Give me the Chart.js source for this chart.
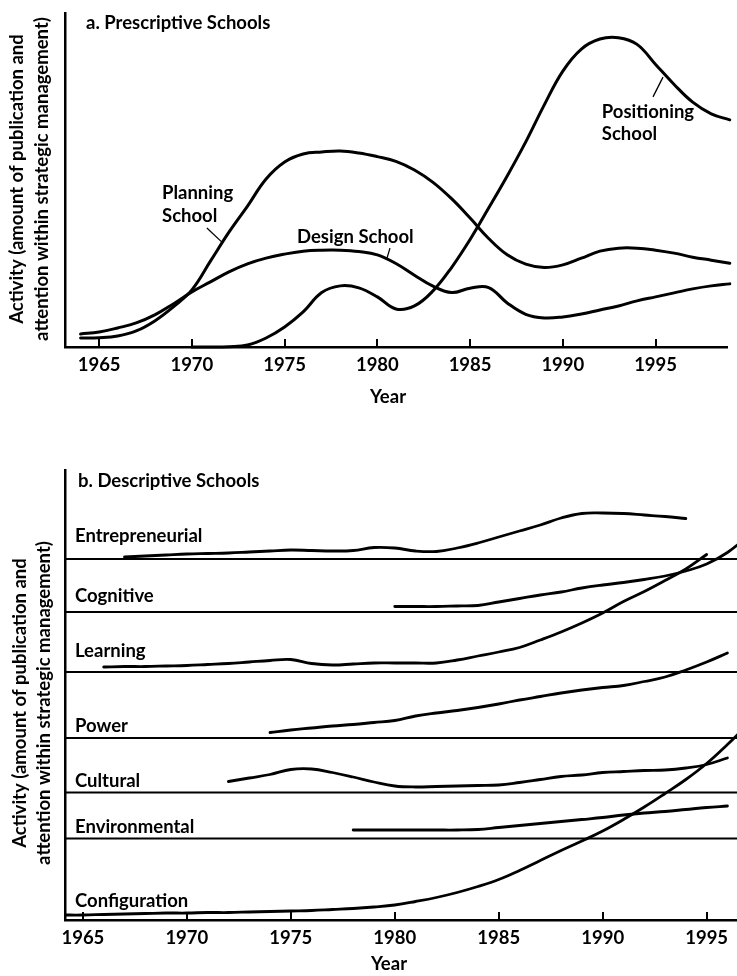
<!DOCTYPE html>
<html>
<head>
<meta charset="utf-8">
<title>Prescriptive and Descriptive Schools</title>
<style>
  html, body { margin: 0; padding: 0; background: #fff; }
  #figure { position: relative; width: 737px; height: 976px; overflow: hidden; background: #fff; }
  #figure canvas { position: absolute; left: 0; top: 0; }
</style>
<script src="https://cdn.jsdelivr.net/npm/chart.js@4.4.1/dist/chart.umd.min.js"></script>
</head>
<body>
<div id="figure">
  <canvas id="prescriptive" width="737" height="976"></canvas>
  <canvas id="descriptive" width="737" height="976"></canvas>
</div>
<script>
// ---------- a. Prescriptive schools (activity index, yearly readings) ----------
const yearsA = [1964, 1965, 1966, 1967, 1968, 1969, 1970, 1971, 1972, 1973, 1974, 1975,
                1976, 1977, 1978, 1979, 1980, 1981, 1982, 1983, 1984, 1985, 1986, 1987,
                1988, 1989, 1990, 1991, 1992, 1993, 1994, 1995, 1996, 1997, 1998, 1999];

const planningSchool = [2.7, 2.8, 3.3, 4.8, 7.8, 12.0, 17.1, 25.7, 34.4, 42.2, 50.3, 55.4,
                        57.8, 58.4, 58.7, 58.1, 57.0, 55.6, 53.0, 49.3, 44.4, 38.6, 32.5, 27.6,
                        24.8, 23.8, 24.6, 26.6, 28.7, 29.6, 29.6, 29.0, 28.1, 26.9, 26.0, 25.1];

const designSchool = [3.9, 4.5, 5.7, 7.2, 9.6, 12.9, 16.5, 19.5, 22.5, 24.9, 26.6, 27.8,
                      28.7, 29.0, 29.0, 28.6, 27.6, 25.0, 21.5, 18.2, 16.3, 17.6, 17.8, 13.2,
                      9.8, 8.7, 9.0, 9.9, 11.1, 12.3, 13.8, 15.0, 16.2, 17.4, 18.3, 18.9];

const positioningSchool = [null, null, null, null, null, null, 0, 0, 0.1, 0.6, 2.7, 6.0,
                           10.5, 16.3, 18.3, 17.7, 15.0, 11.4, 12.3, 16.8, 23.8, 32.2, 41.6, 51.2,
                           61.4, 72.5, 82.6, 89.2, 92.2, 92.6, 90.6, 84.6, 78.6, 73.3, 69.8, 68.0];

const tickYearsA = [1965, 1970, 1975, 1980, 1985, 1990, 1995];

// ---------- b. Descriptive schools (activity above each school's own line) ----------
const yearsB = [1964, 1965, 1966, 1967, 1968, 1969, 1970, 1971, 1972, 1973, 1974, 1975,
                1976, 1977, 1978, 1979, 1980, 1981, 1982, 1983, 1984, 1985, 1986, 1987,
                1988, 1989, 1990, 1991, 1992, 1993, 1994, 1995, 1996, 1997];

const entrepreneurial = [null, null, null, 0.2, 0.3, 0.4, 0.5, 0.55, 0.6, 0.7, 0.8, 0.9,
                         0.85, 0.8, 0.85, 1.15, 1.1, 0.8, 0.75, 1.1, 1.6, 2.2, 2.8, 3.4,
                         4.1, 4.55, 4.6, 4.55, 4.4, 4.25, 4.05, null, null, null];

const cognitive = [null, null, null, null, null, null, null, null, null, null, null, null,
                   null, null, null, null, 0.55, 0.55, 0.55, 0.6, 0.65, 1.0, 1.35, 1.7,
                   2.0, 2.4, 2.7, 2.95, 3.25, 3.6, 4.1, 4.8, 5.95, 7.6];

const learning = [null, null, 0.5, 0.55, 0.55, 0.6, 0.65, 0.75, 0.85, 1.0, 1.15, 1.25,
                  0.85, 0.7, 0.8, 0.9, 0.9, 0.9, 0.9, 1.2, 1.6, 2.0, 2.45, 3.2,
                  4.0, 4.9, 5.9, 7.05, 8.05, 9.15, 10.3, 11.75, null, null];

const power = [null, null, null, null, null, null, null, null, null, null, 0.55, 0.8,
               1.0, 1.2, 1.35, 1.55, 1.75, 2.2, 2.5, 2.75, 3.05, 3.4, 3.8, 4.15,
               4.5, 4.8, 5.05, 5.25, 5.65, 6.1, 6.8, 7.6, 8.5, null];

const cultural = [null, null, null, null, null, null, null, null, 1.1, 1.45, 1.8, 2.3,
                  2.35, 2.0, 1.55, 1.05, 0.65, 0.55, 0.6, 0.65, 0.7, 0.75, 1.0, 1.3,
                  1.6, 1.75, 2.0, 2.1, 2.2, 2.25, 2.45, 2.8, 3.45, null];

const environmental = [null, null, null, null, null, null, null, null, null, null, null, null,
                       null, null, 0.85, 0.85, 0.85, 0.85, 0.85, 0.85, 0.9, 1.1, 1.3, 1.5,
                       1.7, 1.9, 2.1, 2.35, 2.55, 2.7, 2.9, 3.1, 3.25, null];

const configuration = [0.5, 0.5, 0.55, 0.6, 0.65, 0.7, 0.7, 0.75, 0.75, 0.8, 0.85, 0.9,
                       0.95, 1.05, 1.15, 1.3, 1.5, 1.85, 2.25, 2.75, 3.35, 4.05, 4.95, 5.95,
                       6.95, 7.9, 8.9, 10.05, 11.3, 12.65, 14.05, 15.65, 17.55, 19.6];

const schoolNames = ['Entrepreneurial', 'Cognitive', 'Learning', 'Power',
                     'Cultural', 'Environmental', 'Configuration'];

const tickYearsB = [1965, 1970, 1975, 1980, 1985, 1990, 1995];

// ---------- drawing ----------
const FAMILY = 'Lato, "Open Sans", "DejaVu Sans", sans-serif';
const TEXT_SIZE = 18.5;
const INK = '#000';
Chart.defaults.font.family = FAMILY;
Chart.defaults.font.size = TEXT_SIZE;
Chart.defaults.font.weight = 'bold';
Chart.defaults.color = INK;

// each descriptive school sits on its own horizontal line (stacked strips)
const stripLevels = [36.1, 30.8, 24.8, 18.2, 12.75, 8.15, 0];
const stripLabelLift = [1.75, 0.97, 1.55, 0.6, 0.6, 0.53, 1.35];

function points(years, values, base) {
  return years.map((yr, i) => ({ x: yr, y: values[i] == null ? null : base + values[i] }));
}

function curve(label, data, width, clip) {
  return {
    label, data,
    borderColor: INK, borderWidth: width,
    pointRadius: 0, pointHoverRadius: 0, fill: false,
    tension: 0.4, spanGaps: false,
    borderCapStyle: 'round', borderJoinStyle: 'round',
    clip
  };
}

// small tick marks pointing up into the plot
const inwardTicks = {
  id: 'inwardTicks',
  afterDatasetsDraw(chart, args, opts) {
    const { ctx, chartArea, scales: { x } } = chart;
    ctx.save();
    ctx.strokeStyle = INK;
    ctx.lineWidth = opts.width;
    x.ticks.forEach(t => {
      const px = Math.round(x.getPixelForValue(t.value));
      ctx.beginPath();
      ctx.moveTo(px, chartArea.bottom);
      ctx.lineTo(px, chartArea.bottom - opts.length);
      ctx.stroke();
    });
    ctx.restore();
  }
};

// baselines of the stacked strips
const stripLines = {
  id: 'stripLines',
  beforeDatasetsDraw(chart, args, opts) {
    if (!opts.levels) return;
    const { ctx, chartArea, scales: { y } } = chart;
    ctx.save();
    ctx.strokeStyle = INK;
    ctx.lineWidth = opts.width;
    opts.levels.forEach(v => {
      if (v === 0) return;
      const py = y.getPixelForValue(v);
      ctx.beginPath();
      ctx.moveTo(chartArea.left, py);
      ctx.lineTo(chartArea.right, py);
      ctx.stroke();
    });
    ctx.restore();
  }
};

// panel heading, two-line axis title, "Year", and the curve names
const figureText = {
  id: 'figureText',
  afterDraw(chart, args, o) {
    const { ctx, scales: { x, y } } = chart;
    ctx.save();
    ctx.fillStyle = INK;
    ctx.strokeStyle = INK;
    ctx.font = `bold ${o.size}px ${FAMILY}`;
    ctx.textBaseline = 'alphabetic';

    ctx.textAlign = 'left';
    ctx.fillText(o.heading.text, o.heading.left, o.heading.baseline);

    ctx.textAlign = 'center';
    o.axisTitle.lines.forEach((line, i) => {
      ctx.save();
      ctx.translate(o.axisTitle.baselines[i], o.axisTitle.middle);
      ctx.rotate(-Math.PI / 2);
      ctx.fillText(line, 0, 0);
      ctx.restore();
    });

    ctx.fillText(o.xTitle.text, o.xTitle.center, o.xTitle.baseline);

    ctx.textAlign = 'left';
    o.notes.forEach(n => {
      const px = x.getPixelForValue(n.x);
      const py = y.getPixelForValue(n.y);
      n.lines.forEach((t, i) => ctx.fillText(t, px, py + i * o.lineGap));
      if (n.leader) {
        ctx.lineWidth = 1.3;
        ctx.beginPath();
        ctx.moveTo(x.getPixelForValue(n.leader[0]), y.getPixelForValue(n.leader[1]));
        ctx.lineTo(x.getPixelForValue(n.leader[2]), y.getPixelForValue(n.leader[3]));
        ctx.stroke();
      }
    });
    ctx.restore();
  }
};

const axisTitleLines = ['Activity (amount of publication and',
                        'attention within strategic management)'];

function xScale(min, max, ticks, height) {
  return {
    type: 'linear', min, max,
    afterFit(s) { s.height = height; },
    afterBuildTicks(s) { s.ticks = ticks.map(v => ({ value: v })); },
    grid: { display: false, drawTicks: false },
    border: { display: true, color: INK, width: 2.5 },
    ticks: { padding: 7, color: INK, autoSkip: false, maxRotation: 0,
             font: { size: TEXT_SIZE, weight: 'bold' }, callback: v => String(v) }
  };
}

function yScale(max) {
  return {
    type: 'linear', min: 0, max,
    afterFit(s) { s.width = 0; },
    ticks: { display: false },
    grid: { display: false, drawTicks: false },
    border: { display: true, color: INK, width: 2.5 }
  };
}

// ---------- panel a ----------
new Chart(document.getElementById('prescriptive'), {
  type: 'line',
  data: {
    datasets: [
      curve('Planning School', points(yearsA, planningSchool, 0), 3, false),
      curve('Design School', points(yearsA, designSchool, 0), 3, false),
      curve('Positioning School', points(yearsA, positioningSchool, 0), 3, false)
    ]
  },
  options: {
    responsive: false, animation: false, devicePixelRatio: 1,
    events: [],
    layout: { padding: { left: 65, top: 13, right: 10, bottom: 0 } },
    scales: {
      x: xScale(1963.16, 1998.85, tickYearsA, 976 - 347),
      y: yScale(100)
    },
    plugins: {
      legend: { display: false },
      tooltip: { enabled: false },
      inwardTicks: { length: 8, width: 2 },
      figureText: {
        size: TEXT_SIZE, lineGap: 22.5,
        heading: { text: 'a. Prescriptive Schools', left: 86, baseline: 28.5 },
        axisTitle: { lines: axisTitleLines, baselines: [23, 48], middle: 179 },
        xTitle: { text: 'Year', center: 388, baseline: 403 },
        notes: [
          { lines: ['Planning', 'School'], x: 1968.39, y: 44.2, leader: [1970.81, 35.6, 1971.62, 31.4] },
          { lines: ['Design School'], x: 1975.67, y: 31.1, leader: [1980.68, 29.6, 1980.52, 26.6] },
          { lines: ['Positioning', 'School'], x: 1992.1, y: 68.6, leader: [1995.40, 80.8, 1994.86, 74.9] }
        ]
      }
    }
  },
  plugins: [inwardTicks, figureText]
});

// ---------- panel b ----------
const descriptiveSeries = [entrepreneurial, cognitive, learning, power, cultural, environmental, configuration];

new Chart(document.getElementById('descriptive'), {
  type: 'line',
  data: {
    datasets: descriptiveSeries.map((vals, i) =>
      curve(schoolNames[i], points(yearsB, vals, stripLevels[i]), 2.8, undefined))
  },
  options: {
    responsive: false, animation: false, devicePixelRatio: 1,
    events: [],
    layout: { padding: { left: 65, top: 470, right: 0, bottom: 0 } },
    scales: {
      x: xScale(1964.14, 1996.46, tickYearsB, 976 - 920),
      y: yScale(45)
    },
    plugins: {
      legend: { display: false },
      tooltip: { enabled: false },
      inwardTicks: { length: 8, width: 2 },
      stripLines: { levels: stripLevels, width: 2 },
      figureText: {
        size: TEXT_SIZE, lineGap: 22,
        heading: { text: 'b. Descriptive Schools', left: 78, baseline: 486.5 },
        axisTitle: { lines: axisTitleLines, baselines: [25.5, 49.5], middle: 703 },
        xTitle: { text: 'Year', center: 389, baseline: 970 },
        notes: schoolNames.map((name, i) => ({
          lines: [name], x: 1964.62, y: stripLevels[i] + stripLabelLift[i]
        }))
      }
    }
  },
  plugins: [stripLines, inwardTicks, figureText]
});
</script>
</body>
</html>
